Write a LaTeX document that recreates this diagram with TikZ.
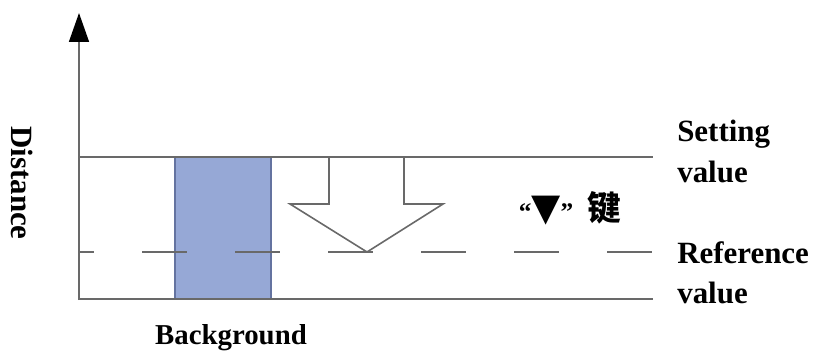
\documentclass[tikz,border=0pt]{standalone}
\usepackage{fontspec}
\setmainfont{Liberation Serif}
\newfontfamily\cjkfont{Noto Sans CJK SC}
\newfontfamily\symfont{DejaVu Sans}
\usetikzlibrary{arrows.meta}
\definecolor{linegray}{RGB}{105,105,105}
\definecolor{barblue}{RGB}{150,168,214}
\definecolor{baredge}{RGB}{100,115,160}
\begin{document}
\begin{tikzpicture}
                \useasboundingbox (0.000000,0.000000) rectangle (20.525000,8.800000);
                {\bfseries\fontsize{22}{29}\selectfont

                % Filling background bar
                \draw [line width=0.040cm, draw=baredge, fill=barblue] (4.375000,1.325000) rectangle (6.775000,4.875000);%

                % Drawing distance axis
                \draw [line width=0.040cm, draw=linegray, -{Triangle[length=0.725cm, width=0.500cm, color=black]}] (1.975000,1.300000) -- (1.975000,8.475000);%

                % Drawing setting line
                \draw [line width=0.040cm, draw=linegray] (1.975000,4.875000) -- (16.325000,4.875000);%

                % Drawing bottom line
                \draw [line width=0.040cm, draw=linegray] (1.975000,1.325000) -- (16.325000,1.325000);%

                % Drawing reference line
                \draw [line width=0.040cm, draw=linegray, dash pattern=on 1.125cm off 1.200cm, dash phase=0.750cm] (1.975000,2.500000) -- (16.325000,2.500000);%

                % Drawing down arrow
                \draw [line width=0.040cm, draw=linegray, line join=miter] (8.225000,4.875000) -- (8.225000,3.700000) -- (7.250000,3.700000) -- (9.175000,2.500000) -- (11.075000,3.700000) -- (10.100000,3.700000) -- (10.100000,4.875000);%

                % Marking key
                \draw (14.250000,3.600000) node (keylabel) {{\fontsize{18}{18}\selectfont “}{\symfont\fontsize{27}{27}\selectfont ▼}{\fontsize{18}{18}\selectfont ”}\hspace{0.35cm}{\cjkfont\fontsize{24}{24}\selectfont 键}};%

                % Marking axis
                \draw (0.550000,4.225000) node (distlabel) [rotate=-90] {Distance};%

                % Marking bar
                \draw (5.775000,0.350000) node (barlabel) {\fontsize{20.5}{24}\selectfont Background};%

                % Marking setting value
                \draw (16.925000,5.800000) node (setlabel) [anchor=north west, inner sep=0pt, align=left] {Setting\\value};%

                % Marking reference value
                \draw (16.925000,2.775000) node (reflabel) [anchor=north west, inner sep=0pt, align=left] {Reference\\value};%
                }
\end{tikzpicture}
\end{document}
